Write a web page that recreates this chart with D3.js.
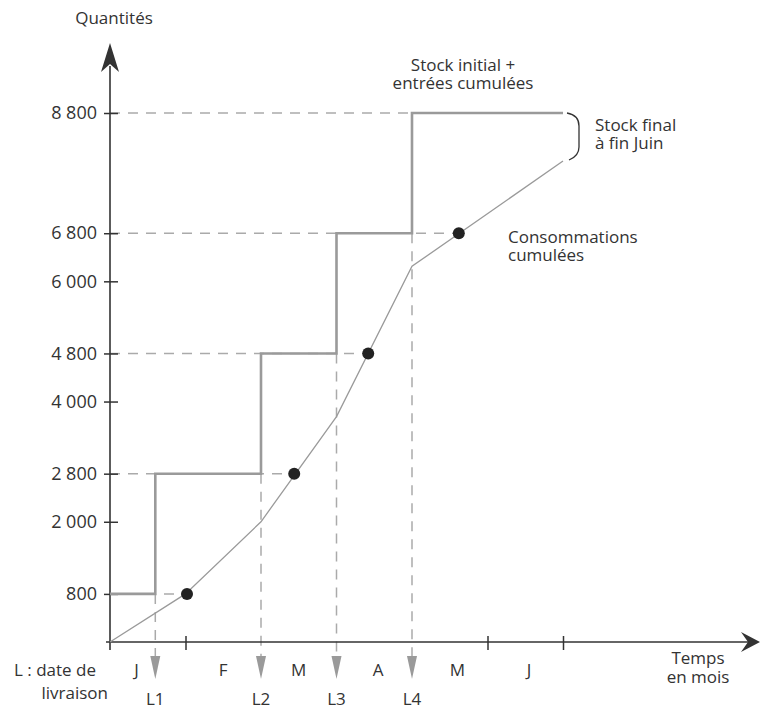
<!DOCTYPE html>
<html><head><meta charset="utf-8">
<script src="https://cdn.jsdelivr.net/npm/d3@7"></script>
<style>
body{margin:0;background:#fff;}
svg text{font-family:"Open Sans",sans-serif;fill:#333;}
</style></head>
<body><svg id="c" width="761" height="709"></svg>
<script>
// ---- data ----
const months = ["J","F","M","A","M","J"];
const monthLabelPos = [0.35, 1.5, 2.5, 3.55, 4.6, 5.55];
const yTicks = [800, 2000, 2800, 4000, 4800, 6000, 6800, 8800];
const deliveryLabels = ["L1","L2","L3","L4"];
const deliveryTimes = [0.6, 2, 3, 4];
const stockLevels = [800, 2800, 4800, 6800, 8800];
const consTimes = [0, 1, 2, 3, 4, 6];
const consValues = [0, 800, 2000, 3750, 6250, 8000];
const dotTimes = [1.02, 2.44, 3.42, 4.62];
const dotValues = [800, 2800, 4800, 6800];
const endTime = 6;

const svg = d3.select("#c");
const x = d3.scaleLinear().domain([0, 6]).range([110, 563]);
const y = d3.scaleLinear().domain([0, 8800]).range([642, 113]);
const grey = "#9a9a9a", dark = "#333";

const fmt = d3.formatLocale({decimal:",", thousands:" ", grouping:[3], currency:["",""]}).format(",");

// dashed guides horizontal
const hGuides = stockLevels.map((v,i)=>({v, t: i < dotTimes.length ? dotTimes[i] : endTime}));
svg.append("g").selectAll("line").data(hGuides).join("line")
  .attr("x1", x(0)).attr("x2", d=>x(d.t)).attr("y1", d=>y(d.v)).attr("y2", d=>y(d.v))
  .attr("stroke", "#aaa").attr("stroke-width", 1.5).attr("stroke-dasharray", "10,8");

// dashed guides vertical
svg.append("g").selectAll("line").data(deliveryTimes).join("line")
  .attr("x1", d=>x(d)).attr("x2", d=>x(d)).attr("y1", (d,i)=>y(stockLevels[i])).attr("y2", 657)
  .attr("stroke", "#aaa").attr("stroke-width", 1.5).attr("stroke-dasharray", "10,8");

// delivery arrows
svg.append("g").selectAll("path").data(deliveryTimes).join("path")
  .attr("d", d=>`M${x(d)-5},656L${x(d)+5},656L${x(d)},679Z`).attr("fill", grey);
svg.append("g").selectAll("text").data(deliveryLabels).join("text")
  .attr("x", (d,i)=>x(deliveryTimes[i])).attr("y", 705).attr("text-anchor","middle")
  .attr("font-size", 17).text(d=>d);

// axes
const yAxis = svg.append("g").attr("transform", `translate(${x(0)},0)`)
  .call(d3.axisLeft(y).tickValues(yTicks).tickFormat(fmt).tickSize(6));
yAxis.select(".domain").remove();
yAxis.selectAll(".tick line").attr("x1", -6).attr("x2", 8).attr("stroke", dark).attr("stroke-width", 1.5);
yAxis.selectAll(".tick text").attr("x", -13).attr("font-size", 18).attr("font-family", "Open Sans").attr("fill", dark);

const xAxis = svg.append("g").attr("transform", `translate(0,${y(0)})`)
  .call(d3.axisBottom(x).tickValues([1,5,6]).tickFormat("").tickSize(8));
xAxis.select(".domain").remove();
xAxis.selectAll(".tick line").attr("y1", -6).attr("y2", 8).attr("stroke", dark).attr("stroke-width", 1.5);

svg.append("line").attr("x1", x(0)).attr("x2", x(0)).attr("y1", 650).attr("y2", 66).attr("stroke", dark).attr("stroke-width", 1.6);
svg.append("path").attr("d", `M${x(0)},43L${x(0)+9},72L${x(0)},64L${x(0)-9},72Z`).attr("fill", dark);
svg.append("line").attr("x1", 106).attr("x2", 748).attr("y1", y(0)).attr("y2", y(0)).attr("stroke", dark).attr("stroke-width", 1.6);
svg.append("path").attr("d", `M760,${y(0)}L741,${y(0)-10}L748,${y(0)}L741,${y(0)+10}Z`).attr("fill", dark);

// step line
const stepPts = [[0, stockLevels[0]]].concat(deliveryTimes.map((t,i)=>[t, stockLevels[i+1]])).concat([[endTime, stockLevels[stockLevels.length-1]]]);
svg.append("path").datum(stepPts)
  .attr("d", d3.line().x(d=>x(d[0])).y(d=>y(d[1])).curve(d3.curveStepAfter))
  .attr("fill","none").attr("stroke", grey).attr("stroke-width", 2.6);

// consumption line
svg.append("path").datum(consTimes.map((t,i)=>[t, consValues[i]]))
  .attr("d", d3.line().x(d=>x(d[0])).y(d=>y(d[1])))
  .attr("fill","none").attr("stroke", grey).attr("stroke-width", 1.3);

// dots
svg.append("g").selectAll("circle").data(dotTimes).join("circle")
  .attr("cx", d=>x(d)).attr("cy", (d,i)=>y(dotValues[i])).attr("r", 6).attr("fill", "#222");

// month labels
svg.append("g").selectAll("text").data(months).join("text")
  .attr("x", (d,i)=>x(monthLabelPos[i])).attr("y", 676).attr("text-anchor","middle")
  .attr("font-size", 17).text(d=>d);

// bracket
svg.append("path").attr("d", "M567,113Q579,115 579,126L579,147Q579,156 569,160")
  .attr("fill","none").attr("stroke", dark).attr("stroke-width", 1.3);

// texts
function txt(s, xx, yy, anchor, size){
  svg.append("text").attr("x", xx).attr("y", yy).attr("text-anchor", anchor).attr("font-size", size).text(s);
}
txt("Quantités", 114, 24, "middle", 17);
txt("L : date de", 14, 676, "start", 17);
txt("livraison", 108, 699, "end", 17);
txt("Temps", 698, 664, "middle", 17);
txt("en mois", 698, 683, "middle", 17);
txt("Stock initial +", 463, 71, "middle", 17);
txt("entrées cumulées", 463, 89, "middle", 17);
txt("Stock final", 595, 131, "start", 17);
txt("à fin Juin", 595, 149, "start", 17);
txt("Consommations", 508, 243, "start", 17);
txt("cumulées", 508, 261, "start", 17);
</script></body></html>
